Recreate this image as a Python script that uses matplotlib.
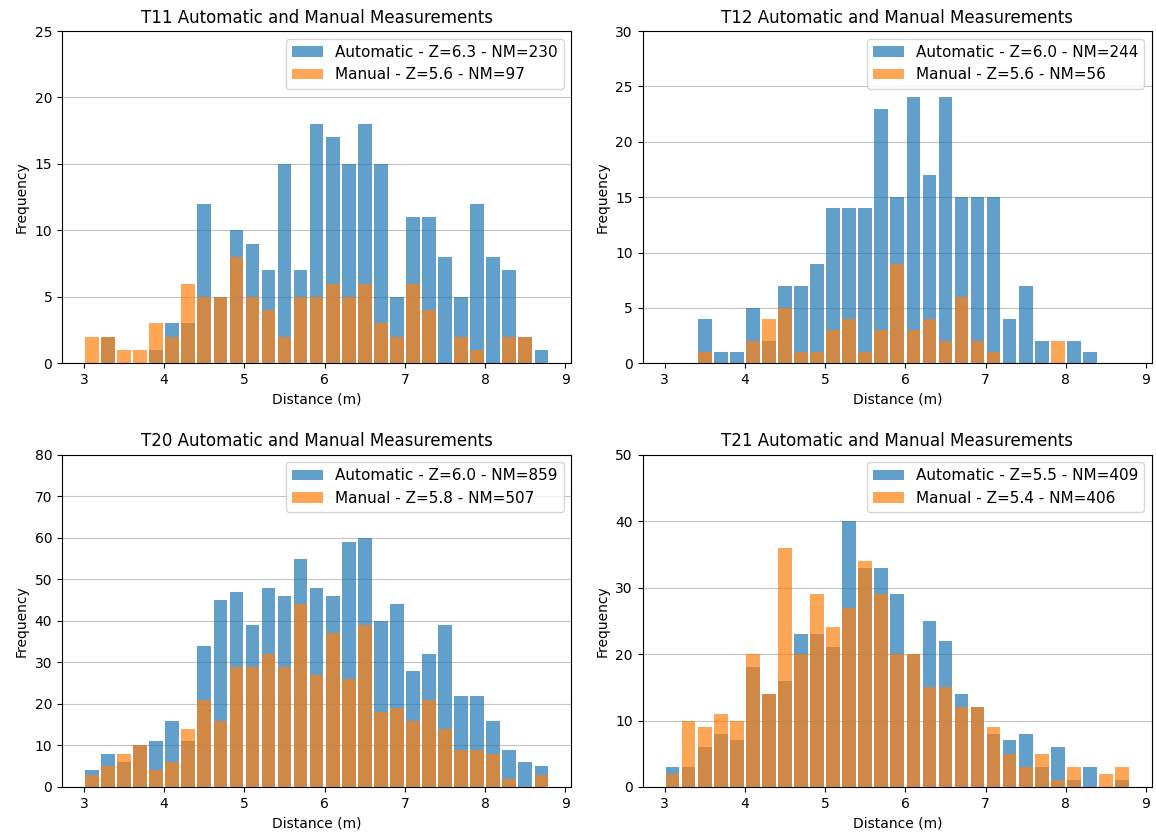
import numpy as np
import matplotlib
matplotlib.use('Agg')
import matplotlib.pyplot as plt

# bin edges: 0.2 m bins from 3.0 to 8.8
edges = np.round(np.arange(3.0, 8.81, 0.2), 1)
centers = edges[:-1] + 0.1

# counts per bin
t11_auto = [0, 2, 0, 0, 1, 3, 3, 12, 5, 10, 9, 7, 15, 7, 18, 17, 15, 18, 15, 5, 11, 11, 8, 5, 12, 8, 7, 2, 1]
t11_manual = [2, 2, 1, 1, 3, 2, 6, 5, 5, 8, 5, 4, 2, 5, 5, 6, 5, 6, 3, 2, 6, 4, 0, 2, 1, 0, 2, 2, 0]

t12_auto = [0, 0, 4, 1, 1, 5, 2, 7, 7, 9, 14, 14, 14, 23, 15, 24, 17, 24, 15, 15, 15, 4, 7, 2, 0, 2, 1, 0, 0]
t12_manual = [0, 0, 1, 0, 0, 2, 4, 5, 1, 1, 3, 4, 1, 3, 9, 3, 4, 2, 6, 2, 1, 0, 0, 0, 2, 0, 0, 0, 0]

t20_auto = [4, 8, 6, 10, 11, 16, 11, 34, 45, 47, 39, 48, 46, 55, 48, 46, 59, 60, 40, 44, 28, 32, 39, 22, 22, 16, 9, 6, 5]
t20_manual = [3, 5, 8, 10, 4, 6, 14, 21, 16, 29, 29, 32, 29, 44, 27, 37, 26, 39, 18, 19, 16, 21, 14, 9, 9, 8, 2, 0, 3]

t21_auto = [3, 3, 6, 8, 7, 18, 14, 16, 23, 23, 21, 40, 33, 33, 29, 20, 25, 22, 14, 12, 8, 7, 8, 3, 6, 1, 3, 0, 1]
t21_manual = [2, 10, 9, 11, 10, 20, 14, 36, 20, 29, 24, 27, 34, 29, 20, 20, 15, 15, 12, 12, 9, 5, 3, 5, 1, 3, 0, 2, 3]

names = ['T11', 'T12', 'T20', 'T21']
auto_counts = [t11_auto, t12_auto, t20_auto, t21_auto]
manual_counts = [t11_manual, t12_manual, t20_manual, t21_manual]
auto_stats = [('6.3', 230), ('6.0', 244), ('6.0', 859), ('5.5', 409)]
manual_stats = [('5.6', 97), ('5.6', 56), ('5.8', 507), ('5.4', 406)]
y_max = [25, 30, 80, 50]

fig, axes = plt.subplots(2, 2, figsize=(11.56, 8.38), dpi=100)

for ax, name, a, m, sa, sm, ym in zip(axes.flat, names, auto_counts, manual_counts,
                                      auto_stats, manual_stats, y_max):
    ax.hist(centers, bins=edges, weights=a, alpha=0.7, rwidth=0.85,
            label='Automatic - Z=%s - NM=%d' % sa)
    ax.hist(centers, bins=edges, weights=m, alpha=0.7, rwidth=0.85,
            label='Manual - Z=%s - NM=%d' % sm)
    ax.grid(axis='y', alpha=0.75)
    ax.set_axisbelow(True)
    ax.set_ylim(0, ym)
    ax.set_title('%s Automatic and Manual Measurements' % name)
    ax.set_xlabel('Distance (m)')
    ax.set_ylabel('Frequency')
    ax.legend(loc='upper right', fontsize=11)

plt.subplots_adjust(left=0.0536, right=0.9965, top=0.963, bottom=0.0609,
                    wspace=0.14, hspace=0.275)
plt.savefig('out.png', dpi=100)
